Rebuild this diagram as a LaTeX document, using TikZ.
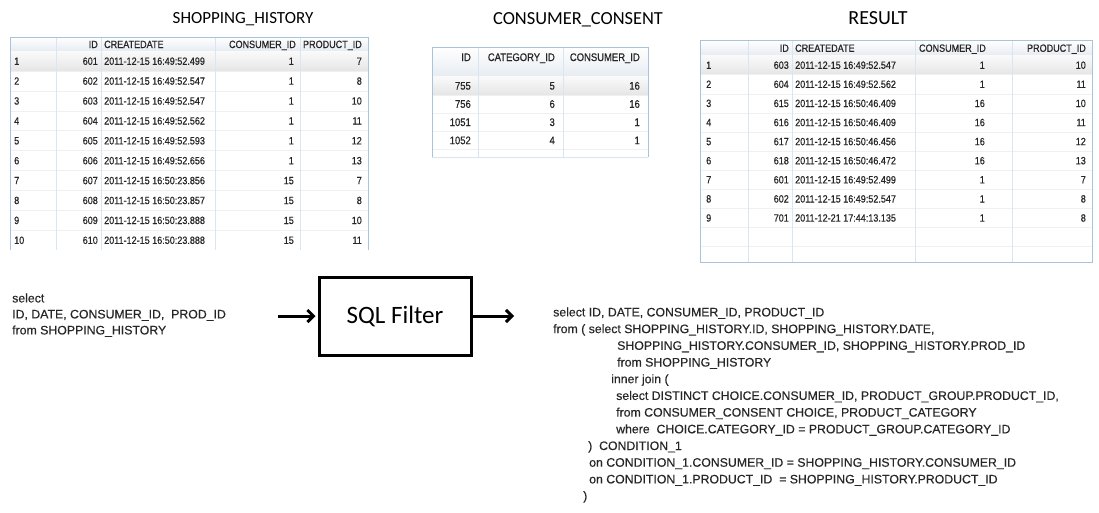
\documentclass[tikz,border=0pt]{standalone}
\usepackage{fontspec}
\setmainfont{Liberation Sans}
\newfontfamily\calibrifont{Carlito}
\newfontfamily\cellfont[FakeStretch=0.86,FakeBold=0.6]{Liberation Sans}
\newfontfamily\codefont[FakeBold=0.4]{Liberation Sans}
\usetikzlibrary{arrows.meta}
\definecolor{gridblue}{HTML}{D9E5F1}
\definecolor{rowline}{HTML}{EDF1F5}
\definecolor{frameblue}{HTML}{A9C3DC}
\definecolor{headbot}{HTML}{E7ECF2}
\definecolor{celltext}{HTML}{262626}

\begin{document}
\begin{tikzpicture}[x=1pt,y=-1pt,%
% common options for the table titles:
title/.style = {font=\calibrifont\fontsize{17}{20}\selectfont, anchor=base, inner sep=0},
% common options for the table cells:
cell/.style = {font=\cellfont\fontsize{10.5}{12}\selectfont, text=celltext, anchor=base east, inner sep=0},
bigcell/.style = {cell, font=\cellfont\fontsize{11}{12}\selectfont},
% common options for the sql lines:
code/.style = {font=\codefont\fontsize{12.3}{14}\selectfont, text=celltext, anchor=base west, inner sep=0},
flow/.style = {line width=3pt, -{Straight Barb[length=6pt,width=12pt]}}]
\useasboundingbox (0,0) rectangle (1099,512);
\node[title] (t-hist) at (243,23.5) {SHOPPING\_HISTORY};
\node[title, font=\calibrifont\fontsize{18.4}{20}\selectfont] (t-cons) at (578,24) {CONSUMER\_CONSENT};
\node[title, font=\calibrifont\fontsize{20}{22}\selectfont] (t-res) at (878,24.5) {RESULT};
% SHOPPING_HISTORY table
\fill[top color=white, bottom color=headbot] (10,37) rectangle (368,51);
\fill[top color=gray!4, bottom color=gray!20] (10,51) rectangle (368,70.9);
\foreach \y in {70.9,90.8,...,250} \draw[rowline] (10,\y) -- (368,\y);
\foreach \x in {56,101,215,300} \draw[gridblue] (\x,37) -- (\x,250);
\draw[frameblue] (10,250) -- (10,37) -- (368,37) -- (368,250);
\node[cell] (sh-hid) at (98,48) {ID};
\node[cell, anchor=base west] (sh-hdate) at (104,48) {CREATEDATE};
\node[cell] (sh-hcons) at (296,48) {CONSUMER\_ID};
\node[cell] (sh-hprod) at (362,48) {PRODUCT\_ID};
\foreach \n/\id/\stamp/\cons/\prod [count=\r] in {1/601/2011-12-15 16:49:52.499/1/7,
    2/602/2011-12-15 16:49:52.547/1/8, 3/603/2011-12-15 16:49:52.547/1/10,
    4/604/2011-12-15 16:49:52.562/1/11, 5/605/2011-12-15 16:49:52.593/1/12,
    6/606/2011-12-15 16:49:52.656/1/13, 7/607/2011-12-15 16:50:23.856/15/7,
    8/608/2011-12-15 16:50:23.857/15/8, 9/609/2011-12-15 16:50:23.888/15/10,
    10/610/2011-12-15 16:50:23.888/15/11}{
  \node[cell, anchor=base west] (sh-n\r) at (14,{64.8+19.9*(\r-1)}) {\n};
  \node[cell] (sh-id\r) at (98,{64.8+19.9*(\r-1)}) {\id};
  \node[cell, anchor=base west] (sh-date\r) at (104,{64.8+19.9*(\r-1)}) {\stamp};
  \node[cell] (sh-cons\r) at (294,{64.8+19.9*(\r-1)}) {\cons};
  \node[cell] (sh-prod\r) at (362,{64.8+19.9*(\r-1)}) {\prod};
}
% CONSUMER_CONSENT table
\fill[top color=white, bottom color=headbot] (432,47) rectangle (648,76.5);
\fill[top color=gray!4, bottom color=gray!20] (432,76.5) rectangle (648,94.7);
\foreach \y in {94.7,112.9,131.1,149.3} \draw[rowline] (432,\y) -- (648,\y);
\foreach \x in {478,563} \draw[gridblue] (\x,47) -- (\x,157);
\draw[frameblue] (432,157) -- (432,47) -- (648,47) -- (648,157);
\draw[gridblue] (432,157) -- (648,157);
\node[bigcell] (cc-hid) at (471,61) {ID};
\node[bigcell] (cc-hcat) at (555,61) {CATEGORY\_ID};
\node[bigcell] (cc-hcons) at (640,61) {CONSUMER\_ID};
\foreach \id/\cat/\cons [count=\r] in {755/5/16, 756/6/16, 1051/3/1, 1052/4/1}{
  \node[bigcell] (cc-id\r) at (471,{89.6+18.2*(\r-1)}) {\id};
  \node[bigcell] (cc-cat\r) at (555,{89.6+18.2*(\r-1)}) {\cat};
  \node[bigcell] (cc-cons\r) at (640,{89.6+18.2*(\r-1)}) {\cons};
}
% RESULT table
\fill[top color=white, bottom color=headbot] (700,40) rectangle (1092,55.5);
\fill[top color=gray!4, bottom color=gray!20] (700,55.5) rectangle (1092,74.6);
\foreach \y in {74.6,93.7,...,262} \draw[rowline] (700,\y) -- (1092,\y);
\foreach \x in {748,792,915,1012} \draw[gridblue] (\x,40) -- (\x,262);
\draw[frameblue] (700,40) rectangle (1092,262);
\node[cell] (rs-hid) at (789,51.8) {ID};
\node[cell, anchor=base west] (rs-hdate) at (795,51.8) {CREATEDATE};
\node[cell] (rs-hcons) at (986,51.8) {CONSUMER\_ID};
\node[cell] (rs-hprod) at (1086,51.8) {PRODUCT\_ID};
\foreach \n/\id/\stamp/\cons/\prod [count=\r] in {1/603/2011-12-15 16:49:52.547/1/10,
    2/604/2011-12-15 16:49:52.562/1/11, 3/615/2011-12-15 16:50:46.409/16/10,
    4/616/2011-12-15 16:50:46.409/16/11, 5/617/2011-12-15 16:50:46.456/16/12,
    6/618/2011-12-15 16:50:46.472/16/13, 7/601/2011-12-15 16:49:52.499/1/7,
    8/602/2011-12-15 16:49:52.547/1/8, 9/701/2011-12-21 17:44:13.135/1/8}{
  \node[cell, anchor=base west] (rs-n\r) at (706,{68.8+19.1*(\r-1)}) {\n};
  \node[cell] (rs-id\r) at (789,{68.8+19.1*(\r-1)}) {\id};
  \node[cell, anchor=base west] (rs-date\r) at (795,{68.8+19.1*(\r-1)}) {\stamp};
  \node[cell] (rs-cons\r) at (985,{68.8+19.1*(\r-1)}) {\cons};
  \node[cell] (rs-prod\r) at (1086,{68.8+19.1*(\r-1)}) {\prod};
}
% query in, filter, query out
\node[code] (q1) at (12,302.4) {select};
\node[code] (q2) at (12,318.4) {ID, DATE, CONSUMER\_ID, \ PROD\_ID};
\node[code] (q3) at (12,334.4) {from SHOPPING\_HISTORY};
\node[draw, line width=3pt, fill=white, minimum width=152pt, minimum height=78pt,
  font=\calibrifont\fontsize{25}{28}\selectfont] (filter) at (395,316) {SQL Filter};
\coordinate (in) at (278,316);
\coordinate (out) at (514,316);
\draw[flow] (in) -- ([xshift=-2pt]filter.west);
\draw[flow] (filter.east) -- (out);
\node[code] (s1) at (553,316.4) {select ID, DATE, CONSUMER\_ID, PRODUCT\_ID};
\node[code] (s2) at (553,333.1) {from ( select SHOPPING\_HISTORY.ID, SHOPPING\_HISTORY.DATE,};
\node[code] (s3) at (617,349.8) {SHOPPING\_HISTORY.CONSUMER\_ID, SHOPPING\_HISTORY.PROD\_ID};
\node[code] (s4) at (617,366.5) {from SHOPPING\_HISTORY};
\node[code] (s5) at (611,383.2) {inner join (};
\node[code] (s6) at (616,399.9) {select DISTINCT CHOICE.CONSUMER\_ID, PRODUCT\_GROUP.PRODUCT\_ID,};
\node[code] (s7) at (616,416.6) {from CONSUMER\_CONSENT CHOICE, PRODUCT\_CATEGORY};
\node[code] (s8) at (616,433.3) {where \ CHOICE.CATEGORY\_ID = PRODUCT\_GROUP.CATEGORY\_ID};
\node[code] (s9) at (588,450.0) {) \ CONDITION\_1};
\node[code] (s10) at (589,466.7) {on CONDITION\_1.CONSUMER\_ID = SHOPPING\_HISTORY.CONSUMER\_ID};
\node[code] (s11) at (589,483.4) {on CONDITION\_1.PRODUCT\_ID \ = SHOPPING\_HISTORY.PRODUCT\_ID};
\node[code] (s12) at (583,500.1) {)};
\end{tikzpicture}
\end{document}
